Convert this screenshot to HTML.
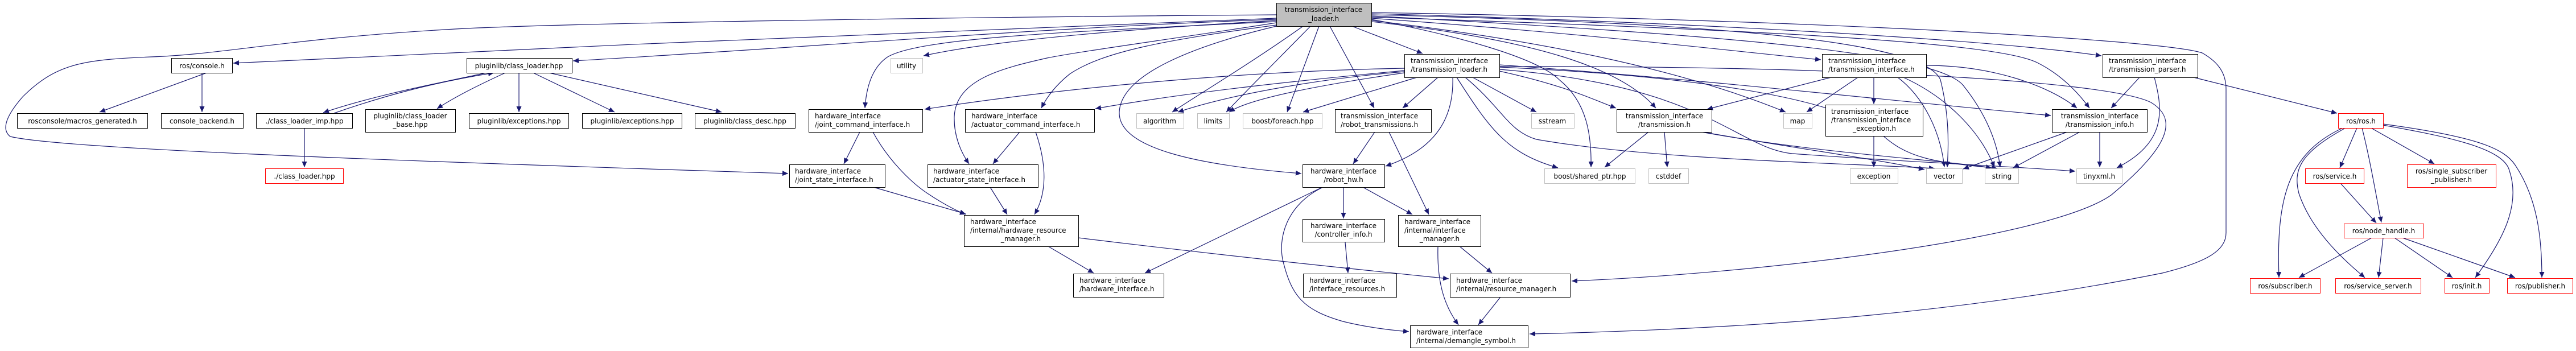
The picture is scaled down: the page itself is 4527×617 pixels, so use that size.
<!DOCTYPE html>
<html><head><meta charset="utf-8"><style>
html,body{margin:0;padding:0;background:#fff;}
svg{display:block;}
text{font-family:"DejaVu Sans","Liberation Sans",sans-serif;font-size:12px;fill:#000;}
.e{fill:none;stroke:#191970;stroke-width:1.2;marker-end:url(#a);}
.n{fill:#fff;stroke:#000;stroke-width:1;}
.g{fill:#fff;stroke:#bfbfbf;stroke-width:1;}
.r{fill:#fff;stroke:#ff0000;stroke-width:1;}
</style></head><body>
<svg width="4527" height="617" viewBox="0 0 4527 617" xmlns="http://www.w3.org/2000/svg">
<defs><marker id="a" markerUnits="userSpaceOnUse" markerWidth="11" markerHeight="9" refX="10" refY="4.5" orient="auto"><path d="M0,0 L10,4.5 L0,9 z" fill="#191970"/></marker></defs>

<!-- edges from main -->
<path class="e" d="M2243,32 C1800,50 1000,80 410,111"/>
<path class="e" d="M2243,26 C1700,30 1000,40 800,51 C500,68 400,95 265,100 C150,105 100,110 40,170 C5,210 5,230 18,240 C100,260 600,280 1385,305"/>
<path class="e" d="M2243,34 C1800,50 1400,85 1007,107"/>
<path class="e" d="M2243,36 C2000,50 1750,70 1623,98"/>
<path class="e" d="M2243,38 C1900,55 1620,65 1560,100 C1530,120 1522,160 1520,190"/>
<path class="e" d="M2243,40 C2050,70 1900,90 1840,102 C1760,120 1680,140 1677,205 C1676,240 1690,270 1703,288"/>
<path class="e" d="M2243,44 C2050,70 1940,90 1880,130 C1855,150 1840,170 1830,190"/>
<path class="e" d="M2243,46 C2100,80 1970,130 1967,197 C1965,260 2100,290 2287,305"/>
<path class="e" d="M2290,46 C2200,110 2100,170 2060,197"/>
<path class="e" d="M2303,46 C2250,100 2190,160 2155,197"/>
<path class="e" d="M2318,46 L2262,197"/>
<path class="e" d="M2337,46 L2415,190"/>
<path class="e" d="M2376,46 L2500,94"/>
<path class="e" d="M2410,34 C2550,60 2700,100 2740,140 C2790,180 2797,240 2796,294"/>
<path class="e" d="M2410,32 C2800,60 3000,85 3200,105"/>
<path class="e" d="M2410,36 C2700,70 2950,120 3138,197"/>
<path class="e" d="M2410,38 C2700,70 2850,120 2910,190"/>
<path class="e" d="M2410,30 C3000,50 3500,70 3580,110 C3620,130 3650,160 3672,190"/>
<path class="e" d="M2410,28 C3000,60 3400,90 3450,150 C3490,200 3510,250 3515,294"/>
<path class="e" d="M2410,26 C3000,40 3380,70 3410,140 C3425,200 3425,250 3422,294"/>
<path class="e" d="M2410,24 C3000,40 3500,70 3693,98"/>
<path class="e" d="M2410,22 C3200,35 3800,70 3870,93 C3900,110 3912,130 3912,157 L3912,409 C3912,440 3880,460 3800,480 C3400,560 3000,580 2688,587"/>
<path class="e" d="M2635,117 C3200,115 3700,140 3780,180 C3830,210 3810,260 3710,343 C3600,420 3100,480 2762,494"/>

<!-- transmission_loader.h edges -->
<path class="e" d="M2468,120 C2200,125 1900,150 1625,192"/>
<path class="e" d="M2468,124 C2300,140 2100,160 1925,191"/>
<path class="e" d="M2468,126 C2300,140 2150,170 2070,197"/>
<path class="e" d="M2468,128 C2350,145 2200,170 2160,197"/>
<path class="e" d="M2490,136 L2290,197"/>
<path class="e" d="M2527,136 L2465,190"/>
<path class="e" d="M2553,136 C2555,200 2530,260 2435,292"/>
<path class="e" d="M2560,136 C2620,230 2650,270 2738,295"/>
<path class="e" d="M2588,136 L2700,197"/>
<path class="e" d="M2575,136 C2640,190 2650,230 2700,245 C2900,280 3200,285 3400,296"/>
<path class="e" d="M2635,125 C2750,150 2800,175 2840,190"/>
<path class="e" d="M2635,118 C2900,130 3200,160 3300,230 C3350,280 3400,285 3510,296"/>
<path class="e" d="M2635,122 C3000,150 3050,260 3150,270 C3350,285 3500,290 3647,301"/>
<path class="e" d="M2635,114 C3000,140 3300,175 3604,203"/>

<!-- transmission.h -->
<path class="e" d="M2897,232 L2820,294"/>
<path class="e" d="M2925,232 L2930,294"/>
<path class="e" d="M2992,232 C3150,260 3300,280 3382,298"/>
<path class="e" d="M2990,232 C3200,270 3400,280 3500,295"/>
<!-- transmission_interface.h -->
<path class="e" d="M3218,136 L3000,192"/>
<path class="e" d="M3265,136 L3175,197"/>
<path class="e" d="M3293,136 L3293,183"/>
<path class="e" d="M3335,136 C3380,170 3410,230 3417,294"/>
<path class="e" d="M3345,136 C3420,170 3480,230 3505,294"/>
<path class="e" d="M3385,115 C3500,115 3600,150 3650,190"/>
<path class="e" d="M3293,239 L3293,294"/>
<!-- transmission_info -->
<path class="e" d="M3633,232 L3450,297"/>
<path class="e" d="M3655,232 L3538,295"/>
<path class="e" d="M3690,232 L3690,294"/>
<!-- transmission_parser -->
<path class="e" d="M3760,136 L3710,190"/>
<path class="e" d="M3786,136 C3800,190 3810,250 3720,295"/>
<path class="e" d="M3855,136 L4107,199"/>
<!-- ros -->
<path class="e" d="M4142,225 L4112,295"/>
<path class="e" d="M4151,225 C4165,280 4175,340 4185,391"/>
<path class="e" d="M4167,225 L4278,288"/>
<path class="e" d="M4117,225 C4020,270 4000,350 4005,488"/>
<path class="e" d="M4120,226 C4040,270 4030,300 4040,340 C4060,400 4110,450 4156,488"/>
<path class="e" d="M4188,220 C4300,240 4400,260 4410,300 C4430,360 4400,420 4350,488"/>
<path class="e" d="M4188,218 C4350,240 4400,260 4420,290 C4460,350 4467,420 4467,488"/>
<path class="e" d="M4113,322 L4176,392"/>
<path class="e" d="M4168,418 L4040,488"/>
<path class="e" d="M4188,418 L4180,488"/>
<path class="e" d="M4208,418 L4310,488"/>
<path class="e" d="M4222,418 L4420,488"/>
<!-- left -->
<path class="e" d="M363,128 L175,197"/>
<path class="e" d="M355,128 L355,197"/>
<path class="e" d="M855,128 C750,150 650,170 568,198"/>
<path class="e" d="M587,199 C670,170 760,145 868,128"/>
<path class="e" d="M888,128 C840,150 800,170 768,191"/>
<path class="e" d="M912,128 L912,197"/>
<path class="e" d="M937,128 L1080,197"/>
<path class="e" d="M965,128 L1268,197"/>
<path class="e" d="M535,225 L535,294"/>
<path class="e" d="M1511,232 L1483,288"/>
<path class="e" d="M1534,232 C1560,280 1600,320 1630,340 C1660,360 1680,370 1697,377"/>
<path class="e" d="M1535,329 L1697,376"/>
<path class="e" d="M1792,232 L1745,288"/>
<path class="e" d="M1820,232 C1840,290 1840,340 1818,377"/>
<path class="e" d="M1740,329 L1770,377"/>
<path class="e" d="M1842,433 L1922,480"/>
<path class="e" d="M1895,418 C2200,455 2400,475 2546,490"/>
<path class="e" d="M2324,329 L2012,480"/>
<path class="e" d="M2361,329 L2361,384"/>
<path class="e" d="M2395,329 L2482,377"/>
<path class="e" d="M2325,329 C2260,360 2245,420 2255,460 C2270,520 2290,545 2360,565 C2400,575 2440,580 2476,583"/>
<path class="e" d="M2416,232 L2378,288"/>
<path class="e" d="M2441,232 L2511,377"/>
<path class="e" d="M2364,426 L2369,480"/>
<path class="e" d="M2565,433 L2622,480"/>
<path class="e" d="M2527,433 C2525,500 2540,540 2563,571"/>
<path class="e" d="M2637,522 L2598,571"/>

<!-- nodes -->
<rect x="2243.5" y="5.5" width="167" height="41" fill="#bfbfbf" stroke="#000"/>
<text x="2326" y="21" text-anchor="middle">transmission_interface</text>
<text x="2326" y="37" text-anchor="middle">_loader.h</text>

<rect class="n" x="301.5" y="102.5" width="107" height="26"/><text x="355" y="120" text-anchor="middle">ros/console.h</text>
<rect class="n" x="30.5" y="199.5" width="229" height="26"/><text x="145" y="217" text-anchor="middle">rosconsole/macros_generated.h</text>
<rect class="n" x="283.5" y="199.5" width="144" height="26"/><text x="355" y="217" text-anchor="middle">console_backend.h</text>
<rect class="n" x="450.5" y="199.5" width="169" height="26"/><text x="535" y="217" text-anchor="middle">./class_loader_imp.hpp</text>
<rect class="n" x="642.5" y="192.5" width="158" height="40"/><text x="721" y="208" text-anchor="middle">pluginlib/class_loader</text><text x="721" y="223" text-anchor="middle">_base.hpp</text>
<rect class="r" x="466.5" y="296.5" width="137" height="26"/><text x="535" y="314" text-anchor="middle">./class_loader.hpp</text>

<rect class="n" x="820.5" y="102.5" width="185" height="26"/><text x="912" y="120" text-anchor="middle">pluginlib/class_loader.hpp</text>
<rect class="n" x="824.5" y="199.5" width="175" height="26"/><text x="912" y="217" text-anchor="middle">pluginlib/exceptions.hpp</text>
<rect class="n" x="1023.5" y="199.5" width="175" height="26"/><text x="1111" y="217" text-anchor="middle">pluginlib/exceptions.hpp</text>
<rect class="n" x="1221.5" y="199.5" width="176" height="26"/><text x="1309" y="217" text-anchor="middle">pluginlib/class_desc.hpp</text>
<rect class="g" x="1565.5" y="102.5" width="56" height="26"/><text x="1593" y="120" text-anchor="middle">utility</text>

<rect class="n" x="1421.5" y="192.5" width="200" height="40"/><text x="1432" y="208">hardware_interface</text><text x="1432" y="223">/joint_command_interface.h</text>
<rect class="n" x="1387.5" y="289.5" width="168" height="40"/><text x="1397" y="305">hardware_interface</text><text x="1397" y="320">/joint_state_interface.h</text>
<rect class="n" x="1696.5" y="192.5" width="227" height="40"/><text x="1707" y="208">hardware_interface</text><text x="1707" y="223">/actuator_command_interface.h</text>
<rect class="n" x="1630.5" y="289.5" width="194" height="40"/><text x="1640" y="305">hardware_interface</text><text x="1640" y="320">/actuator_state_interface.h</text>
<rect class="n" x="1694.5" y="378.5" width="201" height="55"/><text x="1705" y="394">hardware_interface</text><text x="1705" y="409">/internal/hardware_resource</text><text x="1794" y="424" text-anchor="middle">_manager.h</text>
<rect class="n" x="1886.5" y="481.5" width="159" height="41"/><text x="1897" y="497">hardware_interface</text><text x="1897" y="512">/hardware_interface.h</text>

<rect class="g" x="1997.5" y="199.5" width="83" height="26"/><text x="2038" y="217" text-anchor="middle">algorithm</text>
<rect class="g" x="2104.5" y="199.5" width="56" height="26"/><text x="2132" y="217" text-anchor="middle">limits</text>
<rect class="g" x="2184.5" y="199.5" width="139" height="26"/><text x="2254" y="217" text-anchor="middle">boost/foreach.hpp</text>

<rect class="n" x="2468.5" y="95.5" width="167" height="41"/><text x="2479" y="111">transmission_interface</text><text x="2479" y="126">/transmission_loader.h</text>
<rect class="n" x="2346.5" y="192.5" width="169" height="40"/><text x="2356" y="208">transmission_interface</text><text x="2356" y="223">/robot_transmissions.h</text>
<rect class="g" x="2691.5" y="199.5" width="75" height="26"/><text x="2728" y="217" text-anchor="middle">sstream</text>
<rect class="n" x="2289.5" y="289.5" width="144" height="40"/><text x="2361" y="305" text-anchor="middle">hardware_interface</text><text x="2361" y="320" text-anchor="middle">/robot_hw.h</text>
<rect class="g" x="2714.5" y="296.5" width="159" height="26"/><text x="2794" y="314" text-anchor="middle">boost/shared_ptr.hpp</text>
<rect class="n" x="2289.5" y="385.5" width="144" height="40"/><text x="2361" y="401" text-anchor="middle">hardware_interface</text><text x="2361" y="416" text-anchor="middle">/controller_info.h</text>
<rect class="n" x="2457.5" y="378.5" width="145" height="55"/><text x="2468" y="394">hardware_interface</text><text x="2468" y="409">/internal/interface</text><text x="2530" y="424" text-anchor="middle">_manager.h</text>
<rect class="n" x="2290.5" y="481.5" width="164" height="41"/><text x="2301" y="497">hardware_interface</text><text x="2301" y="512">/interface_resources.h</text>
<rect class="n" x="2548.5" y="481.5" width="211" height="41"/><text x="2559" y="497">hardware_interface</text><text x="2559" y="512">/internal/resource_manager.h</text>
<rect class="n" x="2478.5" y="572.5" width="207" height="39"/><text x="2489" y="588">hardware_interface</text><text x="2489" y="603">/internal/demangle_symbol.h</text>

<rect class="n" x="3202.5" y="95.5" width="183" height="41"/><text x="3213" y="111">transmission_interface</text><text x="3213" y="126">/transmission_interface.h</text>
<rect class="n" x="2841.5" y="192.5" width="167" height="40"/><text x="2925" y="208" text-anchor="middle">transmission_interface</text><text x="2925" y="223" text-anchor="middle">/transmission.h</text>
<rect class="g" x="3134.5" y="199.5" width="50" height="26"/><text x="3159" y="217" text-anchor="middle">map</text>
<rect class="n" x="3208.5" y="184.5" width="171" height="55"/><text x="3218" y="200">transmission_interface</text><text x="3218" y="215">/transmission_interface</text><text x="3294" y="230" text-anchor="middle">_exception.h</text>
<rect class="g" x="2897.5" y="296.5" width="70" height="26"/><text x="2932" y="314" text-anchor="middle">cstddef</text>
<rect class="g" x="3251.5" y="296.5" width="84" height="26"/><text x="3293" y="314" text-anchor="middle">exception</text>
<rect class="g" x="3385.5" y="296.5" width="63" height="26"/><text x="3417" y="314" text-anchor="middle">vector</text>
<rect class="g" x="3488.5" y="296.5" width="59" height="26"/><text x="3518" y="314" text-anchor="middle">string</text>
<rect class="g" x="3649.5" y="296.5" width="80" height="26"/><text x="3689" y="314" text-anchor="middle">tinyxml.h</text>
<rect class="n" x="3695.5" y="95.5" width="167" height="41"/><text x="3706" y="111">transmission_interface</text><text x="3706" y="126">/transmission_parser.h</text>
<rect class="n" x="3606.5" y="192.5" width="167" height="40"/><text x="3690" y="208" text-anchor="middle">transmission_interface</text><text x="3690" y="223" text-anchor="middle">/transmission_info.h</text>

<rect class="r" x="4109.5" y="199.5" width="79" height="26"/><text x="4149" y="217" text-anchor="middle">ros/ros.h</text>
<rect class="r" x="4051.5" y="296.5" width="103" height="26"/><text x="4103" y="314" text-anchor="middle">ros/service.h</text>
<rect class="r" x="4230.5" y="289.5" width="156" height="40"/><text x="4308" y="305" text-anchor="middle">ros/single_subscriber</text><text x="4308" y="320" text-anchor="middle">_publisher.h</text>
<rect class="r" x="4119.5" y="393.5" width="140" height="25"/><text x="4189" y="410" text-anchor="middle">ros/node_handle.h</text>
<rect class="r" x="3954.5" y="489.5" width="123" height="26"/><text x="4016" y="507" text-anchor="middle">ros/subscriber.h</text>
<rect class="r" x="4104.5" y="489.5" width="150" height="26"/><text x="4179" y="507" text-anchor="middle">ros/service_server.h</text>
<rect class="r" x="4296.5" y="489.5" width="78" height="26"/><text x="4335" y="507" text-anchor="middle">ros/init.h</text>
<rect class="r" x="4406.5" y="489.5" width="115" height="26"/><text x="4464" y="507" text-anchor="middle">ros/publisher.h</text>
</svg>
</body></html>
